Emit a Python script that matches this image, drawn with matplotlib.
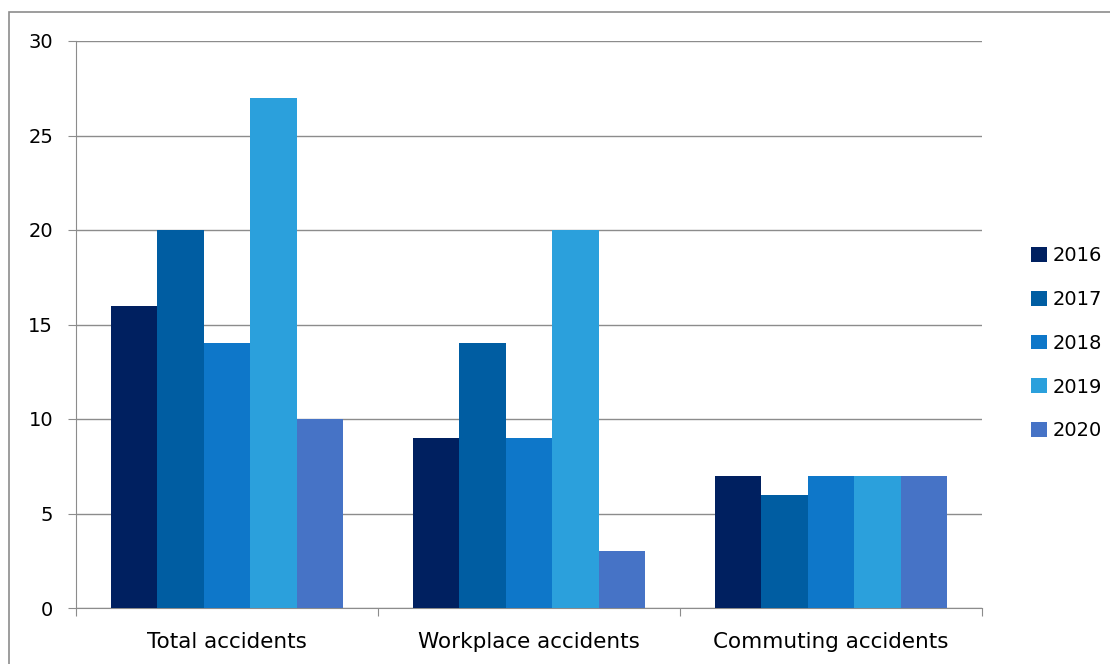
import matplotlib.pyplot as plt
import matplotlib.patches as mpatches
import numpy as np

categories = ["Total accidents", "Workplace accidents", "Commuting accidents"]
years = ["2016", "2017", "2018", "2019", "2020"]
values = {
    "2016": [16, 9, 7],
    "2017": [20, 14, 6],
    "2018": [14, 9, 7],
    "2019": [27, 20, 7],
    "2020": [10, 3, 7],
}
colors = ["#002060", "#005DA2", "#0E77C9", "#2BA0DC", "#4673C6"]

fig = plt.figure(figsize=(11.1, 6.64), dpi=100)
ax = fig.add_axes([76 / 1110, 1 - 608 / 664, (982 - 76) / 1110, (608 - 41) / 664])

# outer chart border (cropped Excel chart area)
fig.patches.append(mpatches.Rectangle((9 / 1110, -0.05), 1.1, 1 - 12 / 664 + 0.05,
                                      transform=fig.transFigure, fill=False,
                                      edgecolor="#8c8c8c", linewidth=1.2))

x = np.arange(len(categories))
w = 1 / 6.5
for i, yr in enumerate(years):
    ax.bar(x - 2 * w + i * w, values[yr], width=w, color=colors[i], label=yr, zorder=3)

ax.set_xlim(-0.5, 2.5)
ax.set_ylim(0, 30)
ax.set_yticks(range(0, 31, 5))
ax.yaxis.grid(True, color="#8c8c8c", linewidth=1, zorder=0)
ax.set_axisbelow(True)

ax.set_xticks([-0.5, 0.5, 1.5, 2.5])
ax.set_xticklabels([])
ax.set_xticks(x, minor=True)
ax.set_xticklabels(categories, minor=True, fontsize=15.5)
ax.tick_params(axis="x", which="minor", length=0, pad=17)
ax.tick_params(axis="x", which="major", length=6, color="#8c8c8c")
ax.tick_params(axis="y", length=6, color="#8c8c8c", labelsize=14, pad=10.5)

for s in ["top", "right"]:
    ax.spines[s].set_visible(False)
for s in ["left", "bottom"]:
    ax.spines[s].set_color("#8c8c8c")

ax.legend(loc="center left", bbox_to_anchor=(1.035, 0.467), frameon=False,
          fontsize=14, handlelength=0.8, handleheight=0.8, labelspacing=1.28,
          handletextpad=0.3)

fig.savefig("out.png", dpi=100)
